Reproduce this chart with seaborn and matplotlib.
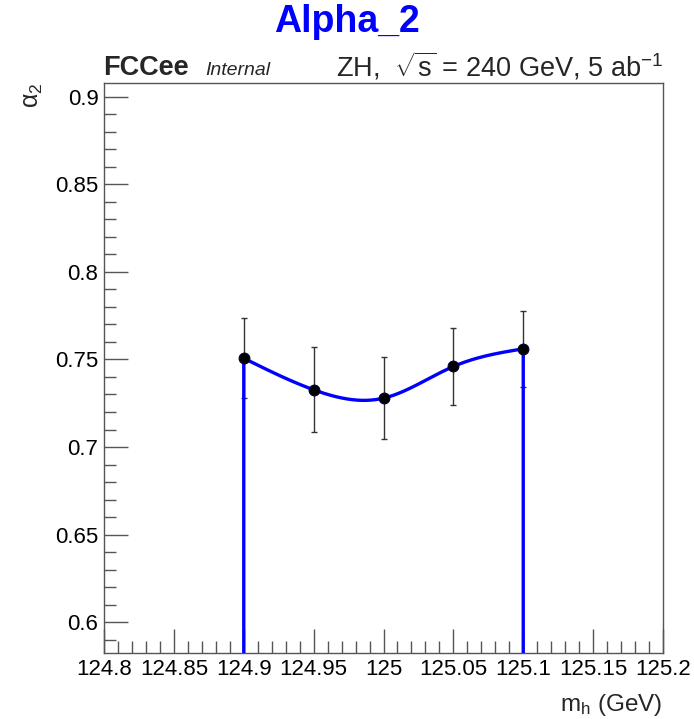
import numpy as np
import pandas as pd
import matplotlib
matplotlib.use("Agg")
import matplotlib.pyplot as plt
from matplotlib.ticker import MultipleLocator, FixedLocator
import seaborn as sns

# ---- data ----
mh = [124.9, 124.95, 125.0, 125.05, 125.1]
alpha2 = [0.7507, 0.7327, 0.7279, 0.7460, 0.7561]
alpha2_err = [0.0228, 0.0244, 0.0236, 0.0221, 0.0218]
xticks = [124.8, 124.85, 124.9, 124.95, 125.0, 125.05, 125.1, 125.15, 125.2]
xticklabels = ["124.8", "124.85", "124.9", "124.95", "125", "125.05", "125.1", "125.15", "125.2"]
yticks = [0.6, 0.65, 0.7, 0.75, 0.8, 0.85, 0.9]
yticklabels = ["0.6", "0.65", "0.7", "0.75", "0.8", "0.85", "0.9"]
YMIN, YMAX = 0.5823, 0.908
XMIN, XMAX = 124.8, 125.2

sns.set_style("ticks")
plt.rcParams['font.family'] = ['Liberation Sans', 'DejaVu Sans']
plt.rcParams['mathtext.fontset'] = 'custom'
plt.rcParams['mathtext.rm'] = 'Liberation Sans'
plt.rcParams['mathtext.it'] = 'Liberation Sans:italic'
plt.rcParams['mathtext.bf'] = 'Liberation Sans:bold'


def natural_spline(x, y, n=300):
    x = np.asarray(x, float); y = np.asarray(y, float)
    k = len(x)
    h = np.diff(x)
    A = np.zeros((k, k)); b = np.zeros(k)
    A[0, 0] = 1; A[-1, -1] = 1
    for i in range(1, k - 1):
        A[i, i - 1] = h[i - 1]
        A[i, i] = 2 * (h[i - 1] + h[i])
        A[i, i + 1] = h[i]
        b[i] = 3 * ((y[i + 1] - y[i]) / h[i] - (y[i] - y[i - 1]) / h[i - 1])
    c = np.linalg.solve(A, b)
    xs = np.linspace(x[0], x[-1], n)
    ys = np.empty_like(xs)
    for j, xv in enumerate(xs):
        i = min(np.searchsorted(x, xv, side='right') - 1, k - 2)
        dx = xv - x[i]
        bi = (y[i + 1] - y[i]) / h[i] - h[i] * (2 * c[i] + c[i + 1]) / 3
        di = (c[i + 1] - c[i]) / (3 * h[i])
        ys[j] = y[i] + bi * dx + c[i] * dx ** 2 + di * dx ** 3
    return xs, ys


fig = plt.figure(figsize=(6.94, 7.19), dpi=100)
ax = fig.add_axes([0.1499, 0.0918, 0.8054, 0.7928])

xs, ys = natural_spline(mh, alpha2)
curve_x = np.concatenate([[mh[0]], xs, [mh[-1]]])
curve_y = np.concatenate([[YMIN - 0.01], ys, [YMIN - 0.01]])
curve = pd.DataFrame({"x": curve_x, "y": curve_y})
sns.lineplot(data=curve, x="x", y="y", sort=False, estimator=None, color="#0000ff",
             lw=2.4, ax=ax, zorder=3)

ax.errorbar(mh, alpha2, yerr=alpha2_err, fmt="none", ecolor="#333333", elinewidth=1.0,
            capsize=2.5, capthick=1.0, zorder=2)
pts = pd.DataFrame({"mh": mh, "a": alpha2})
sns.scatterplot(data=pts, x="mh", y="a", color="black", s=60, edgecolor="#000033",
                linewidth=0.8, ax=ax, zorder=4)

ax.set_xlim(XMIN, XMAX)
ax.set_ylim(YMIN, YMAX)
ax.xaxis.set_major_locator(FixedLocator(xticks))
ax.set_xticklabels(xticklabels)
ax.yaxis.set_major_locator(FixedLocator(yticks))
ax.set_yticklabels(yticklabels)
ax.xaxis.set_minor_locator(MultipleLocator(0.01))
ax.yaxis.set_minor_locator(MultipleLocator(0.01))
ax.tick_params(which="both", direction="in", top=False, right=False, colors="#555555",
               labelcolor="black", labelsize=16)
ax.tick_params(which="major", length=17, width=1.0)
ax.tick_params(which="minor", length=8.5, width=1.0)
ax.tick_params(axis="x", pad=4.5)
ax.tick_params(axis="y", pad=4)
for s in ax.spines.values():
    s.set_color("#555555"); s.set_linewidth(1.0)
ax.set_xlabel(""); ax.set_ylabel("")

fig.text(0.5, 1 - 32 / 719, "Alpha_2", ha="center", va="baseline", color="#0000ff",
         fontsize=27, fontweight="bold")
fig.text(0.149, 1 - 75 / 719, "FCCee", ha="left", va="baseline", fontsize=19.5, fontweight="bold")
fig.text(0.296, 1 - 75 / 719, "Internal", ha="left", va="baseline", fontsize=14, fontstyle="italic")
fig.text(0.956, 1 - 77 / 719, r"ZH,  $\sqrt{\mathrm{s}}$ = 240 GeV, 5 ab$^{-1}$", ha="right",
         va="baseline", fontsize=19.5)
fig.text(0.048, 1 - 95 / 719, r"α$_{2}$", ha="center", va="center", rotation=90, fontsize=18)
fig.text(0.955, 1 - 711 / 719, r"m$_{\mathrm{h}}$ (GeV)", ha="right", va="baseline", fontsize=17.5)

fig.savefig("out.png", dpi=100, facecolor="white")
